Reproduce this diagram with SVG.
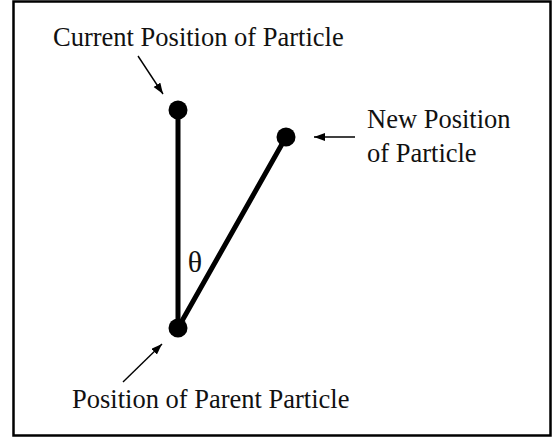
<svg xmlns="http://www.w3.org/2000/svg" width="552" height="438" viewBox="0 0 552 438">
  <style>
    .lbl { font-family: "Liberation Serif", "Times New Roman", serif; font-size: 26.5px; fill: #111; }
    .theta { font-family: "Liberation Serif", "Times New Roman", serif; font-size: 30px; fill: #111; }
    .rod { stroke: #000; stroke-width: 5; stroke-linecap: round; fill: none; }
    .pointer { stroke: #000; stroke-width: 1.4; fill: none; }
    .dot { fill: #000; }
  </style>
  <defs>
    <marker id="ah" markerUnits="userSpaceOnUse" markerWidth="12" markerHeight="10" refX="11" refY="4" orient="auto">
      <path d="M0,0 L11,4 L0,8 Z" fill="#000"/>
    </marker>
  </defs>
  <rect x="13.5" y="1.5" width="537" height="434" fill="#fff" stroke="#000" stroke-width="2.5"/>

  <g id="rods">
    <line class="rod" x1="178" y1="110" x2="178" y2="328"/>
    <line class="rod" x1="178" y1="328" x2="286" y2="137"/>
  </g>

  <g id="connectors">
    <line class="pointer" x1="138" y1="56" x2="163" y2="94" marker-end="url(#ah)"/>
    <line class="pointer" x1="355" y1="137" x2="314" y2="137" marker-end="url(#ah)"/>
    <line class="pointer" x1="123" y1="382" x2="162" y2="344" marker-end="url(#ah)"/>
  </g>

  <g id="current">
    <circle class="dot" cx="178" cy="110" r="9.5"/>
    <text class="lbl" x="53" y="46">Current Position of Particle</text>
  </g>

  <g id="new">
    <circle class="dot" cx="286" cy="137" r="9.5"/>
    <text class="lbl" x="367" y="128">New Position</text>
    <text class="lbl" x="367" y="162">of Particle</text>
  </g>

  <g id="parent">
    <circle class="dot" cx="178" cy="328" r="9.5"/>
    <text class="lbl" x="72" y="408">Position of Parent Particle</text>
  </g>

  <g id="angle">
    <text class="theta" x="195" y="272" text-anchor="middle">θ</text>
  </g>
</svg>
